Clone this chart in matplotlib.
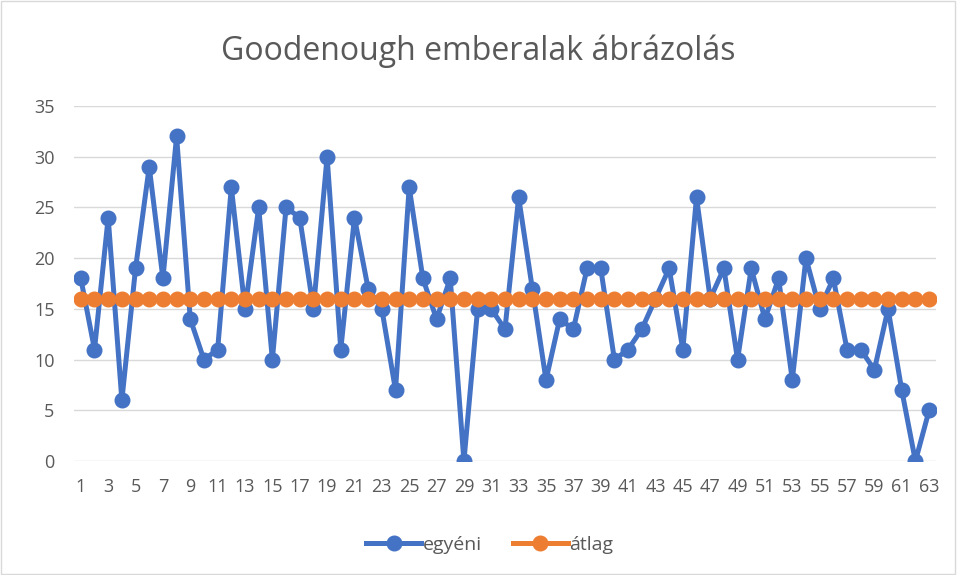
import matplotlib.pyplot as plt
from matplotlib.patches import Rectangle

# Goodenough scores per person, and the group mean
sorszam = list(range(1, 64))
egyeni = [18, 11, 24, 6, 19, 29, 18, 32, 14, 10, 11, 27, 15, 25, 10, 25, 24, 15, 30, 11,
          24, 17, 15, 7, 27, 18, 14, 18, 0, 15, 15, 13, 26, 17, 8, 14, 13, 19, 19, 10,
          11, 13, 16, 19, 11, 26, 16, 19, 10, 19, 14, 18, 8, 20, 15, 18, 11, 11, 9, 15,
          7, 0, 5]
atlag = [16] * 63
yticks = [0, 5, 10, 15, 20, 25, 30, 35]

BLUE = "#4472C4"
ORANGE = "#ED7D31"
GREY = "#595959"

plt.rcParams["font.family"] = ["Open Sans", "DejaVu Sans"]

fig = plt.figure(figsize=(9.57, 5.75), dpi=100)
ax = fig.add_axes([0.0773, 0.198, 0.9007, 0.6177])

ax.plot(sorszam, egyeni, color=BLUE, lw=3.6, marker="o", ms=10.5, label="egyéni", zorder=3)
ax.plot(sorszam, atlag, color=ORANGE, lw=3.6, marker="o", ms=10.5, label="átlag", zorder=4)

ax.set_xlim(0.5, 63.5)
ax.set_ylim(0, 35)
ax.set_yticks(yticks)
ax.set_xticks(sorszam[::2])
ax.tick_params(length=0, labelsize=13, labelcolor=GREY)
ax.tick_params(axis="x", pad=12)
ax.tick_params(axis="y", pad=14)
ax.grid(axis="y", color="#D9D9D9", lw=1)
ax.set_axisbelow(True)
for s in ax.spines.values():
    s.set_visible(False)

fig.text(0.5, 0.91, "Goodenough emberalak ábrázolás", ha="center", va="center",
         fontsize=23, color=GREY)

fig.legend(loc="center", bbox_to_anchor=(0.512, 0.052), ncol=2, frameon=False,
           fontsize=14, labelcolor=GREY, handlelength=2.8, columnspacing=1.6,
           handletextpad=0.1)

fig.patches.append(Rectangle((0.001, 0.002), 0.997, 0.996, transform=fig.transFigure,
                             fill=False, edgecolor="#D9D9D9", lw=1))

fig.savefig("out.png", dpi=100)
